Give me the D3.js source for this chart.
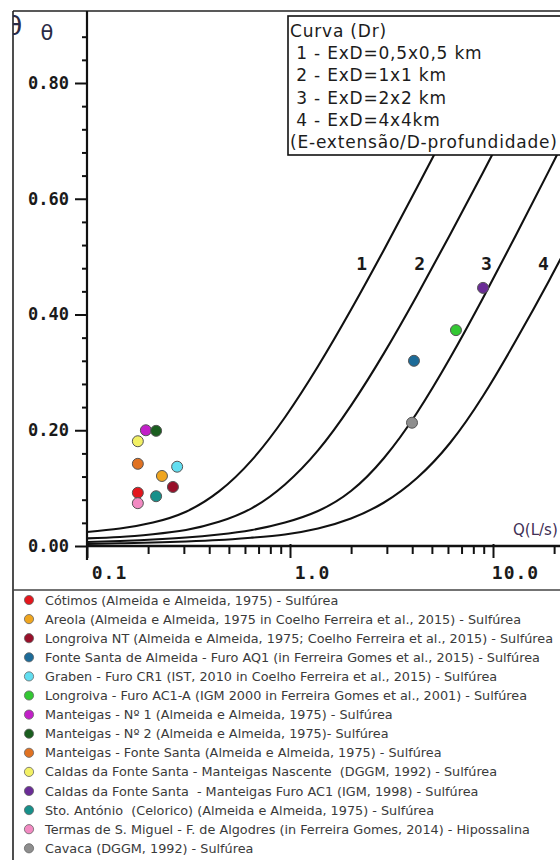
<!DOCTYPE html>
<html>
<head>
<meta charset="utf-8">
<script src="https://cdn.jsdelivr.net/npm/d3@7"></script>
<style>
  html, body { margin: 0; padding: 0; background: #fff; }
  svg { display: block; }
  text { white-space: pre; }
</style>
</head>
<body>
<svg id="chart" width="560" height="860"></svg>
<script>
// ---------- DATA ----------
const curveNames = ["1", "2", "3", "4"];
const curveQ = [0.1, 0.1454, 0.2114, 0.3073, 0.4469, 0.6499, 0.9449, 1.374, 1.997, 2.905, 4.223, 6.141, 8.928, 12.98, 18.88, 27.44];
const curve1T = [0.0242, 0.0302, 0.0406, 0.0593, 0.0943, 0.1488, 0.2225, 0.3105, 0.4081, 0.5120, 0.6193, 0.7283, 0.8385];
const curve2T = [0.0131, 0.0156, 0.0204, 0.0276, 0.0418, 0.0655, 0.1064, 0.1652, 0.2426, 0.3333, 0.4330, 0.5377, 0.6455, 0.7551];
const curve3T = [0.0069, 0.0086, 0.0112, 0.0147, 0.0199, 0.0276, 0.0406, 0.0605, 0.0950, 0.1521, 0.2302, 0.3247, 0.4285, 0.5372, 0.6486, 0.7615];
const curve4T = [0.0035, 0.0047, 0.0060, 0.0079, 0.0104, 0.0145, 0.0199, 0.0302, 0.0475, 0.0752, 0.1175, 0.1780, 0.2592, 0.3554, 0.4584, 0.5664];

const siteNames = [
  "Cótimos (Almeida e Almeida, 1975) - Sulfúrea",
  "Areola (Almeida e Almeida, 1975 in Coelho Ferreira et al., 2015) - Sulfúrea",
  "Longroiva NT (Almeida e Almeida, 1975; Coelho Ferreira et al., 2015) - Sulfúrea",
  "Fonte Santa de Almeida - Furo AQ1 (in Ferreira Gomes et al., 2015) - Sulfúrea",
  "Graben - Furo CR1 (IST, 2010 in Coelho Ferreira et al., 2015) - Sulfúrea",
  "Longroiva - Furo AC1-A (IGM 2000 in Ferreira Gomes et al., 2001) - Sulfúrea",
  "Manteigas - Nº 1 (Almeida e Almeida, 1975) - Sulfúrea",
  "Manteigas - Nº 2 (Almeida e Almeida, 1975)- Sulfúrea",
  "Manteigas - Fonte Santa (Almeida e Almeida, 1975) - Sulfúrea",
  "Caldas da Fonte Santa - Manteigas Nascente  (DGGM, 1992) - Sulfúrea",
  "Caldas da Fonte Santa  - Manteigas Furo AC1 (IGM, 1998) - Sulfúrea",
  "Sto. António  (Celorico) (Almeida e Almeida, 1975) - Sulfúrea",
  "Termas de S. Miguel - F. de Algodres (in Ferreira Gomes, 2014) - Hipossalina",
  "Cavaca (DGGM, 1992) - Sulfúrea"
];
const siteColors = ["#e3161d", "#efa51f", "#98102a", "#1d6b98", "#62def0", "#33c833", "#c21fc8",
                    "#1a5e1f", "#e07222", "#f2f064", "#6a2c96", "#17908a", "#f28ac2", "#8e8e8e"];
const siteQ = [0.178, 0.234, 0.265, 4.08, 0.278, 6.57, 0.195, 0.219, 0.178, 0.178, 8.93, 0.219, 0.178, 3.99];
const siteTheta = [0.092, 0.121, 0.102, 0.320, 0.137, 0.373, 0.200, 0.199, 0.142, 0.181, 0.446, 0.086, 0.074, 0.213];

const yMajorTicks = [0, 0.2, 0.4, 0.6, 0.8];
const yTickLabels = ["0.00", "0.20", "0.40", "0.60", "0.80"];
const yMinorTicks = [0.04, 0.08, 0.12, 0.16, 0.24, 0.28, 0.32, 0.36, 0.44, 0.48, 0.52, 0.56, 0.64, 0.68, 0.72, 0.76, 0.84, 0.88];
const xMajorTicks = [0.1, 1, 10];
const xTickLabels = ["0.1", "1.0", "10.0"];
const xMinorTicks = [0.2, 0.3, 0.4, 0.5, 0.6, 0.7, 0.8, 0.9, 2, 3, 4, 5, 6, 7, 8, 9, 20];

const boxLines = ["Curva (Dr)", " 1 - ExD=0,5x0,5 km", " 2 - ExD=1x1 km", " 3 - ExD=2x2 km", " 4 - ExD=4x4km", "(E-extensão/D-profundidade)"];
const curveLabelTheta = 0.489;

// ---------- DRAW ----------
(function () {
const svg = d3.select("#chart");
const W = 560;
const left = 87, bottom = 546, topY = 11, frameL = 13;

const x = d3.scaleLog().domain([0.1, 10]).range([left, 493]);
const y = d3.scaleLinear().domain([0, 0.8]).range([bottom, 83]);

const defs = svg.append("defs");
defs.append("clipPath").attr("id", "plotClip").append("rect")
  .attr("x", left).attr("y", topY).attr("width", W - left).attr("height", bottom - topY);
defs.append("clipPath").attr("id", "frameClip").append("rect")
  .attr("x", frameL).attr("y", topY).attr("width", W).attr("height", 860);

// outer frame
svg.append("line").attr("x1", frameL).attr("x2", frameL).attr("y1", topY).attr("y2", 860)
  .attr("stroke", "#222").attr("stroke-width", 1.6);
svg.append("line").attr("x1", frameL).attr("x2", W).attr("y1", topY).attr("y2", topY)
  .attr("stroke", "#222").attr("stroke-width", 1.6);
svg.append("line").attr("x1", frameL).attr("x2", W).attr("y1", 590).attr("y2", 590)
  .attr("stroke", "#444").attr("stroke-width", 1.6);

// curves
const curves = [curve1T, curve2T, curve3T, curve4T].map(T => T.map((t, i) => [curveQ[i], t]));
const line = d3.line().x(d => x(d[0])).y(d => y(d[1])).curve(d3.curveNatural);
const gc = svg.append("g").attr("clip-path", "url(#plotClip)");
gc.selectAll("path.curve").data(curves).join("path")
  .attr("class", "curve").attr("d", line)
  .attr("fill", "none").attr("stroke", "#111").attr("stroke-width", 2.1);

// curve labels: placed just left of where each curve crosses curveLabelTheta
function crossX(pts, t) {
  for (let i = 1; i < pts.length; i++) {
    if (pts[i][1] >= t && pts[i - 1][1] <= t) {
      const f = (t - pts[i - 1][1]) / (pts[i][1] - pts[i - 1][1]);
      return x(pts[i - 1][0]) + f * (x(pts[i][0]) - x(pts[i - 1][0]));
    }
  }
  return x(pts[pts.length - 1][0]);
}
svg.selectAll("text.clabel").data(curves).join("text")
  .attr("class", "clabel")
  .attr("x", (d) => crossX(d, curveLabelTheta) - 15)
  .attr("y", y(curveLabelTheta) + 7)
  .attr("text-anchor", "middle")
  .attr("font-family", "DejaVu Sans Mono").attr("font-weight", "bold").attr("font-size", 18)
  .attr("fill", "#1a1a1a")
  .text((d, i) => curveNames[i]);

// y axis
svg.append("line").attr("x1", left).attr("x2", left).attr("y1", topY).attr("y2", 560)
  .attr("stroke", "#111").attr("stroke-width", 2.2);
const yMaj = svg.append("g").attr("transform", `translate(${left},0)`)
  .call(d3.axisLeft(y).tickValues(yMajorTicks).tickSize(12).tickPadding(6)
    .tickFormat((d, i) => yTickLabels[i]));
const yMin = svg.append("g").attr("transform", `translate(${left},0)`)
  .call(d3.axisLeft(y).tickValues(yMinorTicks).tickSize(5).tickFormat(""));
[yMaj, yMin].forEach(g => {
  g.select(".domain").remove();
  g.selectAll("line").attr("stroke", "#111").attr("stroke-width", 2);
});
yMaj.selectAll("text").attr("font-family", "DejaVu Sans Mono").attr("font-weight", "bold")
  .attr("font-size", 17).attr("fill", "#1a1a1a");

// x axis
svg.append("line").attr("x1", left).attr("x2", W).attr("y1", bottom).attr("y2", bottom)
  .attr("stroke", "#111").attr("stroke-width", 2.6);
const xMaj = svg.append("g").attr("transform", `translate(0,${bottom - 2})`)
  .call(d3.axisBottom(x).tickValues(xMajorTicks).tickSize(14).tickPadding(8)
    .tickFormat((d, i) => xTickLabels[i]));
const xMin = svg.append("g").attr("transform", `translate(0,${bottom})`)
  .call(d3.axisBottom(x).tickValues(xMinorTicks).tickSize(8).tickFormat(""));
[xMaj, xMin].forEach(g => {
  g.select(".domain").remove();
  g.selectAll("line").attr("stroke", "#111").attr("stroke-width", 2);
});
xMaj.selectAll("text").attr("font-family", "DejaVu Sans Mono").attr("font-weight", "bold")
  .attr("font-size", 18).attr("letter-spacing", 1).attr("dx", 22).attr("fill", "#1a1a1a");

// axis titles
svg.append("text").attr("x", 47).attr("y", 40).attr("text-anchor", "middle")
  .attr("font-family", "DejaVu Sans").attr("font-size", 21).attr("fill", "#2b2b45").text("θ");
svg.append("g").attr("clip-path", "url(#frameClip)")
  .append("text").attr("x", 14).attr("y", 35).attr("text-anchor", "middle")
  .attr("font-family", "DejaVu Sans").attr("font-size", 27).attr("fill", "#2b2b45").text("θ");
svg.append("text").attr("x", 513).attr("y", 535)
  .attr("font-family", "DejaVu Sans").attr("font-size", 15).attr("fill", "#3f2f55").text("Q(L/s)");

// points
svg.append("g").selectAll("circle").data(siteQ).join("circle")
  .attr("cx", d => x(d)).attr("cy", (d, i) => y(siteTheta[i])).attr("r", 5.5)
  .attr("fill", (d, i) => siteColors[i]).attr("stroke", "#555").attr("stroke-width", 1);

// curve legend box
const box = svg.append("g");
box.append("rect").attr("x", 288).attr("y", 16).attr("width", 290).attr("height", 139)
  .attr("fill", "#fff").attr("stroke", "#111").attr("stroke-width", 1.6);
box.selectAll("text").data(boxLines).join("text")
  .attr("x", 290).attr("y", (d, i) => 37 + i * 22.2)
  .attr("font-family", "DejaVu Sans").attr("font-size", 17).attr("letter-spacing", 0.8)
  .attr("fill", "#1c1c1c")
  .text(d => d);

// sites legend
const leg = svg.append("g");
const rows = leg.selectAll("g").data(siteNames).join("g")
  .attr("transform", (d, i) => `translate(0,${600 + i * 19.1})`);
rows.append("circle").attr("cx", 29).attr("cy", 0).attr("r", 4.6)
  .attr("fill", (d, i) => siteColors[i]).attr("stroke", "#666").attr("stroke-width", 0.8);
rows.append("text").attr("x", 45).attr("y", 4.5)
  .attr("font-family", "DejaVu Sans").attr("font-size", 12.8)
  .attr("fill", "#3a3a3a")
  .text(d => d);
})();
</script>
</body>
</html>
